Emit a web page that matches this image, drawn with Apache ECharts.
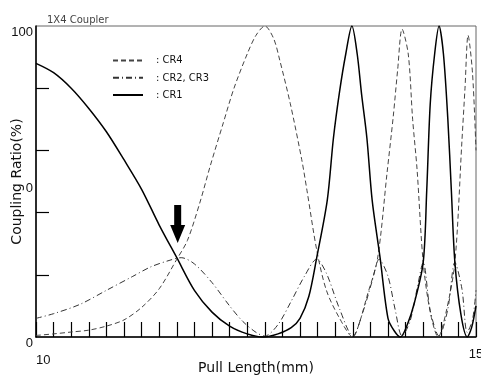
<!DOCTYPE html>
<html lang="en">
<head>
    <meta charset="UTF-8">
    <title>1X4 Coupler</title>
    <script type="text/javascript" src="https://cdn.jsdelivr.net/npm/echarts@6/dist/echarts.min.js"></script>
    <style>
        html, body { margin: 0; padding: 0; background: #fff; }
    </style>
</head>
<body>
<div id="main" style="width: 481px;height:377px;"></div>
<script>
    // values
    var cr1X = [10.0, 10.2, 10.4, 10.6, 10.8, 11.0, 11.2, 11.4, 11.6, 11.8, 12.0, 12.2, 12.4, 12.58, 12.75, 12.9, 13.0, 13.1, 13.19, 13.31, 13.38, 13.45, 13.52, 13.59, 13.65, 13.7, 13.76, 13.82, 13.91, 14.0, 14.07, 14.14, 14.22, 14.3, 14.4, 14.44, 14.48, 14.53, 14.58, 14.63, 14.68, 14.72, 14.76, 14.83, 14.9, 14.95, 15.0];
    var cr1Y = [88, 85, 80, 73.5, 66, 57, 47.5, 36, 25.5, 15, 8, 3.5, 1, 0, 1, 3, 6, 13, 25.5, 44, 64, 79, 91, 100, 91, 78, 64, 44, 25.5, 6, 2, 0, 4, 11, 24, 47, 75, 91, 100, 91, 70, 47, 24, 7, 0, 3, 10];

    var cr4X = [10.0, 10.2, 10.4, 10.6, 10.8, 11.0, 11.2, 11.4, 11.6, 11.72, 11.86, 11.98, 12.13, 12.25, 12.4, 12.5, 12.6, 12.7, 12.77, 12.89, 13.02, 13.08, 13.19, 13.3, 13.45, 13.6, 13.68, 13.76, 13.88, 13.99, 14.06, 14.11, 14.16, 14.23, 14.28, 14.33, 14.4, 14.48, 14.57, 14.66, 14.76, 14.84, 14.875, 14.91, 14.96, 15.0];
    var cr4Y = [0.5, 1, 1.6, 2.2, 3.5, 5.5, 9.5, 15.5, 25, 31, 43, 55, 69, 80, 91, 97, 100, 96, 89, 75, 57, 47, 28, 15, 6, 0, 5, 13, 25, 53, 71, 86, 99, 91, 70, 54, 24, 8, 0, 8, 24, 63, 80, 97, 85, 60];

    var cr23X = [10.0, 10.2, 10.5, 10.8, 11.1, 11.3, 11.5, 11.65, 11.8, 12.0, 12.2, 12.35, 12.5, 12.6, 12.75, 12.9, 13.05, 13.19, 13.3, 13.45, 13.6, 13.72, 13.82, 13.9, 14.0, 14.08, 14.16, 14.25, 14.33, 14.4, 14.48, 14.58, 14.68, 14.76, 14.84, 14.9, 14.96, 15.0];
    var cr23Y = [6, 7.5, 10.5, 15, 19.5, 22.5, 24.5, 25.5, 23.5, 17.5, 10, 5, 1.5, 0.3, 4, 11.5, 19.5, 25, 20.5, 9, 0.3, 8.5, 18, 25, 19.5, 9, 0.3, 5, 15.5, 24, 8.5, 0.3, 9, 24, 15.5, 1.5, 5.5, 15];

    var xLabels = [10, 15];
    var yLabels = [0, 50, 100];
    var yTicks = [20, 40, 60, 80];
    var arrowAt = [11.61, 36.3];

    function pairs(xs, ys) {
        var out = [];
        for (var i = 0; i < xs.length; i++) {
            out.push([xs[i], ys[i]]);
        }
        return out;
    }

    var myChart = echarts.init(document.getElementById('main'));
    var font = 'DejaVu Sans';

    myChart.setOption({
        animation: false,
        title: {
            text: '1X4 Coupler',
            left: 42,
            top: 10,
            textStyle: { fontSize: 10, fontWeight: 'normal', color: '#444', fontFamily: font }
        },
        grid: {
            left: 36, right: 5, top: 26, bottom: 40,
            outerBoundsMode: 'none',
            containLabel: false,
            show: true, borderColor: '#666', borderWidth: 1
        },
        legend: {
            orient: 'vertical',
            left: 107,
            top: 50,
            itemWidth: 30,
            itemHeight: 14,
            itemGap: 6,
            itemStyle: { opacity: 0 },
            data: ['CR4', 'CR2, CR3', 'CR1'],
            formatter: function (name) { return ': ' + name; },
            textStyle: { fontSize: 11, color: '#111', fontFamily: 'DejaVu Sans Condensed', padding: [0, 0, 0, 8] }
        },
        xAxis: {
            type: 'value',
            min: 10,
            max: 15,
            interval: 0.2,
            name: 'Pull Length(mm)',
            nameLocation: 'middle',
            nameGap: 24,
            nameMoveOverlap: false,
            nameTextStyle: { fontSize: 14, color: '#111', fontFamily: font },
            axisLine: { lineStyle: { color: '#000', width: 1.5 } },
            axisTick: { inside: true, length: 15, lineStyle: { color: '#000', width: 1.2 } },
            splitLine: { show: false },
            axisLabel: {
                customValues: xLabels,
                margin: 17,
                fontSize: 13,
                color: '#111',
                fontFamily: 'Liberation Sans',
                alignMinLabel: 'left',
                verticalAlignMaxLabel: 'middle'
            }
        },
        yAxis: {
            type: 'value',
            min: 0,
            max: 100,
            interval: 20,
            name: 'Coupling Ratio(%)',
            nameLocation: 'middle',
            nameGap: 12,
            nameMoveOverlap: false,
            nameTextStyle: { fontSize: 14, color: '#111', fontFamily: font },
            axisLine: { lineStyle: { color: '#000', width: 1.5 } },
            axisTick: { inside: true, length: 13, customValues: yTicks, lineStyle: { color: '#000', width: 1.2 } },
            splitLine: { show: false },
            axisLabel: {
                customValues: yLabels,
                margin: 3,
                fontSize: 13,
                color: '#111',
                fontFamily: 'Liberation Sans',
                verticalAlign: 'top',
                formatter: function (v) { return v === 50 ? '0' : String(v); }
            }
        },
        series: [
            {
                name: 'CR4',
                type: 'line',
                symbol: 'none',
                smooth: 0.3,
                data: pairs(cr4X, cr4Y),
                lineStyle: { color: '#444', width: 1, type: [5, 3] },
                itemStyle: { color: '#444' }
            },
            {
                name: 'CR2, CR3',
                type: 'line',
                symbol: 'none',
                smooth: 0.3,
                data: pairs(cr23X, cr23Y),
                lineStyle: { color: '#333', width: 1, type: [6, 3, 1, 3] },
                itemStyle: { color: '#333' }
            },
            {
                name: 'CR1',
                type: 'line',
                symbol: 'none',
                smooth: 0.3,
                data: pairs(cr1X, cr1Y),
                lineStyle: { color: '#000', width: 1.5 },
                itemStyle: { color: '#000' },
                markPoint: {
                    silent: true,
                    symbol: 'path://M4,0 L11,0 L11,20 L15,20 L7.5,38 L0,20 L4,20 Z',
                    symbolSize: [15, 38],
                    label: { show: false },
                    itemStyle: { color: '#000' },
                    data: [{ coord: arrowAt }]
                }
            }
        ]
    });
</script>
</body>
</html>
